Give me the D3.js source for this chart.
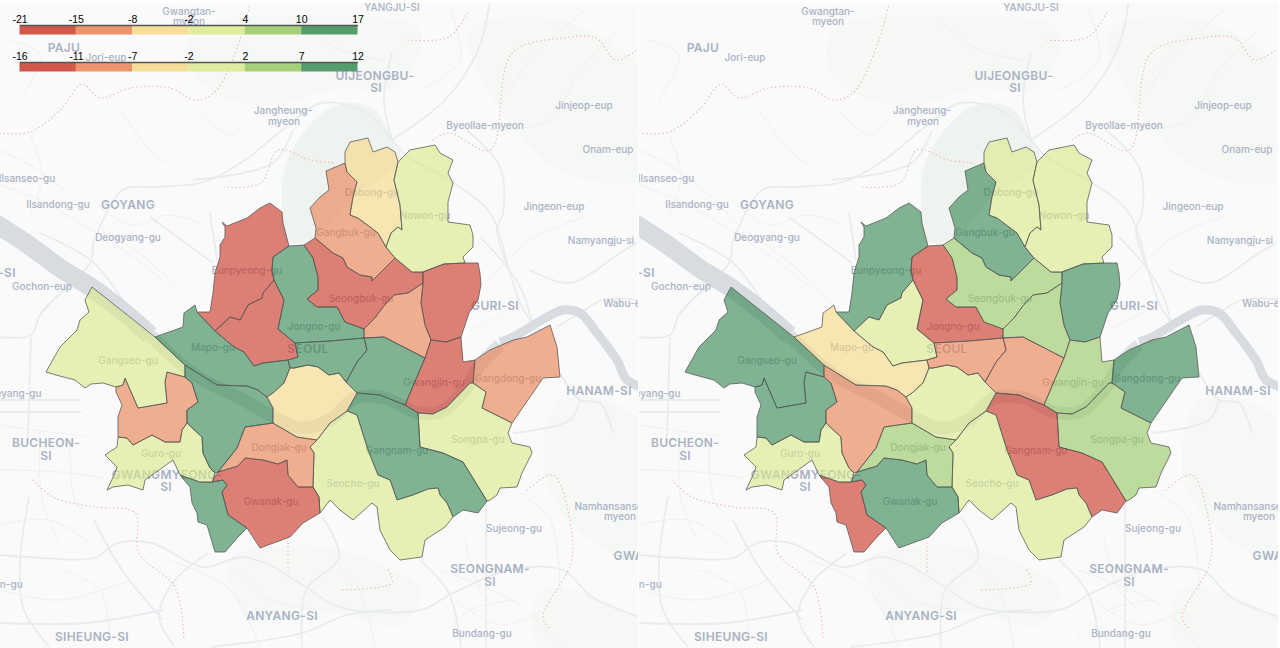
<!DOCTYPE html>
<html>

<head>
  <meta charset="utf-8">
  <title>Seoul districts</title>
  <script src="https://cdn.jsdelivr.net/npm/d3@7/dist/d3.min.js"></script>
  <style>
    html, body { margin: 0; padding: 0; background: #fff; }
    svg { display: block; }
    .place { font-family: Inter, "Open Sans", sans-serif; fill: #a9b2c3; text-anchor: middle; dominant-baseline: central; }
    .town { font-size: 10px; font-weight: 500; }
    .city { font-size: 12px; font-weight: 600; letter-spacing: 0.3px; }
    .legend text { font-family: "Liberation Sans", sans-serif; font-size: 10.5px; fill: #000; }
    .legend .domain { stroke: #555; stroke-width: 1.5px; }
  </style>
</head>

<body>
  <div id="chart"></div>

  <script>
    // Bin edges of the two colour legends
    const leftTicks = [-21, -15, -8, -2, 4, 10, 17];
    const rightTicks = [-16, -11, -7, -2, 2, 7, 12];
    const palette = ["#c82f1e", "#e97b49", "#f5d782", "#d9e987", "#94c65d", "#2f844b"];

    const districtNames = [
      "Eunpyeong-gu", "Seodaemun-gu", "Jongno-gu", "Seongbuk-gu", "Gangbuk-gu",
      "Dobong-gu", "Nowon-gu", "Jungnang-gu", "Dongdaemun-gu", "Seongdong-gu",
      "Gwangjin-gu", "Gangdong-gu", "Songpa-gu", "Gangnam-gu", "Seocho-gu",
      "Gwanak-gu", "Dongjak-gu", "Geumcheon-gu", "Guro-gu", "Yangcheon-gu",
      "Gangseo-gu", "Yeongdeungpo-gu", "Mapo-gu", "Yongsan-gu", "Jung-gu"
    ];
    const leftValues = [-18, -17, 12, -19, -12, -5, 1, -20, -11, 13, -19, -10, 0, 14, 2, -18, -10, 13, 1, -12, -1, 15, 11, -4, 12];
    const rightValues = [9, 0, -14, 4, 10, 0, -1, 11, 3, -9, 4, 9, 5, -15, 1, 10, 4, -13, -1, 8, 8, -9, -4, 1, -10];

    // District outlines, map units, same order as districtNames
    const districtRings = [
      [[270,203],[282,212],[283,223],[289,246],[273,257],[272,270],[274,280],[263,293],[262,298],[248,305],[240,320],[230,317],[215,331],[197,312],[210,312],[213,293],[215,273],[220,257],[220,245],[225,237],[225,227],[222,222],[227,226],[247,218],[260,208]],
      [[274,280],[284,300],[278,329],[295,343],[298,357],[288,360],[263,363],[254,366],[244,352],[234,347],[215,331],[230,317],[240,320],[248,305],[262,298],[263,293]],
      [[273,257],[289,246],[304,245],[313,258],[318,277],[318,290],[307,299],[317,307],[337,307],[345,322],[364,329],[364,338],[330,341],[295,343],[278,329],[284,300],[274,280],[272,270]],
      [[315,238],[333,253],[343,258],[347,267],[360,275],[372,277],[372,281],[395,258],[412,272],[423,272],[423,283],[408,293],[394,295],[383,307],[375,318],[364,329],[345,322],[337,307],[317,307],[307,299],[318,290],[318,277],[313,258],[304,245]],
      [[345,163],[326,171],[329,190],[320,197],[310,208],[316,228],[315,238],[333,253],[343,258],[347,267],[360,275],[372,277],[372,281],[395,258],[386,247],[378,233],[358,218],[350,215],[353,197],[357,182],[347,172]],
      [[345,152],[350,142],[368,138],[373,152],[387,147],[395,152],[398,162],[394,180],[400,205],[402,230],[398,227],[391,233],[386,247],[378,233],[358,218],[350,215],[353,197],[357,182],[347,172],[345,163]],
      [[398,162],[410,150],[435,145],[440,153],[453,160],[448,173],[453,183],[448,202],[448,222],[470,225],[473,235],[473,247],[463,257],[465,263],[444,264],[423,272],[412,272],[395,258],[386,247],[391,233],[398,227],[402,230],[400,205],[394,180]],
      [[423,272],[444,264],[465,263],[478,263],[480,273],[481,285],[478,300],[469,313],[461,337],[446,342],[431,340],[425,325],[421,303],[423,283]],
      [[364,329],[375,318],[383,307],[394,295],[408,293],[423,283],[421,303],[425,325],[431,340],[425,358],[384,337],[364,338]],
      [[364,338],[384,337],[425,358],[405,405],[380,395],[357,393],[346,382],[357,362],[367,350]],
      [[431,340],[446,342],[461,337],[463,362],[475,360],[473,383],[470,383],[447,407],[433,414],[418,413],[405,405],[425,358]],
      [[475,360],[490,350],[513,340],[527,337],[550,325],[557,347],[558,357],[560,377],[543,378],[530,397],[512,423],[482,408],[486,392],[473,383]],
      [[470,383],[473,383],[486,392],[482,408],[512,423],[508,433],[512,443],[530,447],[532,453],[522,473],[517,487],[500,488],[497,495],[490,500],[487,501],[463,462],[443,453],[420,447],[418,413],[433,414],[447,407]],
      [[357,393],[380,395],[405,405],[418,413],[420,447],[443,453],[463,462],[487,501],[478,513],[463,510],[453,517],[447,503],[440,495],[438,488],[428,489],[413,495],[397,500],[390,480],[378,475],[368,450],[357,415],[352,413],[347,411]],
      [[317,440],[330,423],[347,411],[352,413],[357,415],[368,450],[378,475],[390,480],[397,500],[413,495],[428,489],[438,488],[440,495],[447,503],[453,517],[445,527],[425,540],[422,557],[400,560],[390,550],[380,530],[377,507],[372,503],[353,520],[340,510],[330,500],[320,513],[319,497],[313,487],[314,453],[310,447]],
      [[298,487],[313,487],[319,497],[320,513],[303,523],[290,537],[260,548],[247,528],[228,515],[222,492],[227,485],[223,480],[212,482],[218,472],[238,466],[245,458],[263,460],[278,464],[287,460],[288,475]],
      [[245,427],[273,423],[297,437],[317,440],[310,447],[314,453],[313,487],[298,487],[288,475],[287,460],[278,464],[263,460],[245,458],[238,466],[218,472],[237,448]],
      [[180,475],[190,487],[192,503],[197,513],[198,522],[207,525],[215,552],[225,552],[238,537],[247,528],[228,515],[222,492],[227,485],[223,480],[212,482],[200,482]],
      [[187,423],[202,437],[203,453],[210,468],[215,473],[212,482],[200,482],[180,475],[173,460],[155,473],[145,480],[143,490],[128,485],[113,487],[107,490],[115,473],[117,467],[105,455],[117,447],[118,437],[127,438],[133,445],[152,435],[165,442],[180,442],[182,430]],
      [[116,387],[123,385],[125,378],[138,408],[167,403],[165,382],[167,372],[185,377],[192,383],[198,402],[187,410],[187,423],[182,430],[180,442],[165,442],[152,435],[133,445],[127,438],[118,437],[118,417],[122,405],[116,392]],
      [[92,287],[155,337],[185,365],[185,377],[167,372],[165,382],[167,403],[138,408],[125,378],[123,385],[116,387],[103,383],[91,384],[85,388],[75,380],[56,375],[46,372],[60,347],[77,330],[80,320],[89,312],[85,300]],
      [[185,365],[217,385],[247,386],[258,390],[267,397],[273,408],[273,423],[245,427],[237,448],[218,472],[215,473],[210,468],[203,453],[202,437],[187,423],[187,410],[198,402],[192,383],[185,377]],
      [[195,305],[184,313],[183,327],[155,337],[185,365],[217,385],[247,386],[258,390],[267,397],[273,393],[284,383],[290,368],[288,360],[263,363],[254,366],[244,352],[234,347],[215,331],[197,312]],
      [[267,397],[273,393],[284,383],[290,368],[294,368],[308,365],[318,367],[329,375],[339,373],[346,382],[357,393],[347,411],[330,423],[317,440],[297,437],[273,423],[273,408]],
      [[295,343],[330,341],[364,338],[367,350],[357,362],[346,382],[339,373],[329,375],[318,367],[308,365],[294,368],[290,368],[288,360],[298,357]]
    ];

    // Base map
    const mountainArea = [[282,205],[284,170],[295,145],[320,115],[345,103],[375,110],[392,140],[402,160],[350,200],[315,240],[285,240]];
    const greenAreas = [
      [[195,30],[300,15],[420,30],[400,85],[330,90],[280,105],[230,100],[190,70]],
      [[230,560],[300,545],[360,555],[420,590],[400,625],[320,610],[250,620]],
      [[560,400],[640,420],[640,560],[590,540],[545,480]],
      [[470,30],[560,20],[640,70],[640,180],[560,170],[500,110]],
      [[540,590],[640,620],[640,648],[540,648]]
    ];
    const riverWest = [[-10,220],[30,246],[60,268],[95,290],[125,313],[150,335]];
    const riverCity = [[150,335],[195,375],[240,398],[270,415],[300,428],[330,420],[355,398],[385,398],[415,412],[440,412],[465,390],[480,365],[500,345]];
    const riverEast = [[500,342],[513,337],[547,317],[563,310],[580,313],[597,333],[617,360],[627,380],[645,388]];
    const roads = [
      [[93,243],[123,190],[155,187],[204,182],[245,160],[286,127],[322,103],[367,113],[392,140],[408,157],[449,180],[490,213],[510,273],[520,303],[535,327]],
      [[490,0],[478,50],[445,100],[392,140]],
      [[392,53],[384,100],[392,140]],
      [[467,130],[500,167],[503,213],[497,230],[510,273]],
      [[0,555],[41,558],[94,558],[118,543],[151,543],[204,567],[241,557],[265,563],[306,587],[339,607],[420,610],[453,593],[510,570],[563,570],[592,597],[640,617]],
      [[212,647],[302,633],[347,615],[392,610]],
      [[420,560],[449,593],[461,647]],
      [[486,500],[486,647]],
      [[322,517],[339,557],[306,590],[302,647]],
      [[208,553],[175,580],[159,617],[175,647]],
      [[94,520],[122,570],[163,620]],
      [[29,497],[20,563],[24,610],[49,647]],
      [[0,623],[86,623],[163,610]],
      [[93,243],[90,263],[60,293],[40,315]],
      [[40,233],[93,262],[127,307]],
      [[150,217],[213,263]],
      [[193,180],[273,163],[293,130]],
      [[210,213],[217,260]],
      [[480,237],[507,267],[523,293],[533,327]],
      [[530,270],[570,283],[620,253],[637,243]],
      [[557,327],[580,313],[603,300],[640,300]],
      [[560,373],[580,400],[600,403],[613,433]],
      [[513,433],[570,420],[580,400]],
      [[0,337],[31,335],[41,313],[81,277]],
      [[0,400],[81,400]],
      [[0,412],[81,412]],
      [[31,337],[28,437]]
    ];
    // Thinner streets, mostly the built-up parts round the edge of the map
    const streets = [
      [[0,150],[30,165],[70,195],[100,225],[150,262],[195,305]],
      [[0,185],[40,200],[88,228],[130,255],[175,290]],
      [[30,135],[42,175],[30,215]],
      [[98,205],[130,225],[170,215],[205,225]],
      [[0,425],[34,430],[84,436]],
      [[0,470],[60,472],[104,478]],
      [[40,430],[42,500],[58,540]],
      [[70,440],[75,500],[92,520]],
      [[0,525],[50,520],[96,548]],
      [[60,570],[100,590],[110,640]],
      [[0,590],[60,600],[130,580]],
      [[170,560],[230,590],[260,648]],
      [[240,570],[270,600],[325,610]],
      [[335,560],[360,590],[375,648]],
      [[440,570],[520,605],[560,648]],
      [[455,600],[500,625],[540,612]],
      [[430,648],[470,610],[515,600]],
      [[465,540],[480,590],[500,610]],
      [[515,490],[550,520],[560,590]],
      [[510,310],[470,330]],
      [[490,280],[530,240],[590,215]],
      [[490,130],[550,120],[580,70],[620,30]],
      [[510,90],[530,60],[585,10]],
      [[420,90],[460,60],[450,10]],
      [[200,110],[230,135],[250,120]],
      [[20,100],[40,55],[10,40]],
      [[120,110],[150,150],[170,165]],
      [[300,20],[340,50],[385,60]]
    ];
    const borders = [
      [[0,133],[30,132],[62,108],[82,84],[100,98],[130,88],[170,88],[195,100],[215,92],[240,40],[250,4]],
      [[224,187],[261,183],[278,150],[310,160],[335,163]],
      [[433,140],[449,133],[490,150],[512,53],[563,38],[596,38],[616,60],[637,50]],
      [[408,40],[449,37],[469,10]],
      [[33,480],[53,497],[94,507],[135,513],[139,553],[175,587],[184,640]],
      [[288,543],[288,573]],
      [[388,570],[392,583],[339,590]],
      [[527,490],[553,475],[571,527],[571,563],[543,617],[551,630]]
    ];

    const placeLabels = [
      ["YANGJU-SI", 392, 7, "town"], ["Gwangtan-", 189, 11, "town"], ["myeon", 189, 21, "town"],
      ["PAJU", 64, 47, "city"], ["Jori-eup", 106, 57, "town"], ["UIJEONGBU-", 375, 75, "city"], ["SI", 376, 87, "city"],
      ["Jangheung-", 283, 110, "town"], ["myeon", 284, 121, "town"], ["Jinjeop-eup", 584, 105, "town"],
      ["Byeollae-myeon", 485, 125, "town"], ["Onam-eup", 608, 149, "town"], ["Ilsanseo-gu", 27, 178, "town"],
      ["Ilsandong-gu", 58, 204, "town"], ["GOYANG", 128, 204, "city"], ["Jingeon-eup", 554, 206, "town"],
      ["Deogyang-gu", 128, 237, "town"], ["Namyangju-si", 601, 240, "town"], ["-SI", 7, 272, "city"],
      ["Gochon-eup", 42, 286, "town"], ["GURI-SI", 495, 305, "city"], ["Wabu-eup", 628, 303, "town"],
      ["HANAM-SI", 599, 390, "city"], ["Gyeyang-gu", 12, 393, "town"], ["BUCHEON-", 46, 442, "city"], ["SI", 46, 455, "city"],
      ["GWANGMYEONG-", 167, 474, "city"], ["SI", 166, 486, "city"], ["SEOUL", 308, 348, "city"],
      ["Gangseo-gu", 128, 360, "town"], ["Mapo-gu", 213, 347, "town"], ["Jongno-gu", 314, 326, "town"],
      ["Eunpyeong-gu", 247, 270, "town"], ["Seongbuk-gu", 361, 298, "town"], ["Gangbuk-gu", 346, 232, "town"],
      ["Dobong-gu", 372, 192, "town"], ["Nowon-gu", 425, 215, "town"], ["Guro-gu", 161, 453, "town"],
      ["Dongjak-gu", 279, 447, "town"], ["Gwanak-gu", 271, 501, "town"], ["Seocho-gu", 353, 483, "town"],
      ["Gangnam-gu", 397, 450, "town"], ["Gwangjin-gu", 434, 382, "town"], ["Gangdong-gu", 508, 378, "town"],
      ["Songpa-gu", 478, 439, "town"], ["Sujeong-gu", 514, 528, "town"], ["Namhansanseong-", 620, 506, "town"],
      ["myeon", 620, 516, "town"], ["GWANGJU-SI", 655, 555, "city"], ["SEONGNAM-", 490, 568, "city"], ["SI", 490, 581, "city"],
      ["Manan-gu", -2, 584, "town"], ["ANYANG-SI", 282, 615, "city"], ["Bundang-gu", 482, 633, "town"], ["SIHEUNG-SI", 92, 636, "city"]
    ];

    const width = 1280;
    const height = 648;
    const panelTop = 3;
    const panelW = 639;

    const svg = d3.select("#chart").append("svg")
      .attr("width", width)
      .attr("height", height);

    const path = d3.geoPath(d3.geoIdentity());
    const roadLine = d3.line().curve(d3.curveCatmullRom);
    const blob = d3.line().curve(d3.curveCatmullRomClosed);

    function feature(name, value, ring) {
      return {
        type: "Feature",
        properties: { name, value },
        geometry: { type: "Polygon", coordinates: [ring.concat([ring[0]])] }
      };
    }

    function drawPanel(id, x, ticks, values) {
      // Bin edges without the two ends give the colour thresholds
      const color = d3.scaleThreshold().domain(ticks.slice(1, -1)).range(palette);

      svg.append("clipPath").attr("id", id)
        .append("rect")
        .attr("x", 0).attr("y", panelTop)
        .attr("width", id === "left" ? 638 : panelW)
        .attr("height", height - panelTop);

      const outer = svg.append("g")
        .attr("transform", `translate(${x},0)`)
        .attr("clip-path", `url(#${id})`);

      outer.append("rect")
        .attr("y", panelTop)
        .attr("width", panelW)
        .attr("height", height - panelTop)
        .attr("fill", "#fafafa");

      outer.selectAll(".green").data(greenAreas).enter().append("path")
        .attr("d", d => blob(d))
        .attr("fill", "#f6f8f6");

      outer.append("path")
        .attr("d", blob(mountainArea))
        .attr("fill", "#eff3f0");

      outer.selectAll(".street").data(streets).enter().append("path")
        .attr("d", d => roadLine(d))
        .attr("fill", "none")
        .attr("stroke", "#eef0f2")
        .attr("stroke-width", 1);

      outer.selectAll(".road").data(roads).enter().append("path")
        .attr("d", d => roadLine(d))
        .attr("fill", "none")
        .attr("stroke", "#e9ebee")
        .attr("stroke-width", 1.8);

      outer.selectAll(".border").data(borders).enter().append("path")
        .attr("d", d => roadLine(d))
        .attr("fill", "none")
        .attr("stroke", "#e9bcbc")
        .attr("stroke-width", 1.2)
        .attr("stroke-linecap", "round")
        .attr("stroke-dasharray", "0.5 3.5");

      // Han river
      [[riverWest, 19, "#d8dce1"], [riverCity, 13, "#dde0e4"], [riverEast, 9, "#d8dce1"]].forEach(function (r) {
        outer.append("path")
          .attr("d", roadLine(r[0]))
          .attr("fill", "none")
          .attr("stroke", r[2])
          .attr("stroke-width", r[1]);
      });

      outer.selectAll(".place").data(placeLabels).enter().append("text")
        .attr("class", d => "place " + d[3])
        .attr("x", d => d[1])
        .attr("y", d => d[2])
        .text(d => d[0]);

      const features = districtNames.map((n, i) => feature(n, values[i], districtRings[i]));

      outer.selectAll(".district").data(features).enter().append("path")
        .attr("class", "district")
        .attr("d", path)
        .attr("fill", d => color(d.properties.value))
        .attr("fill-opacity", 0.6)
        .attr("stroke", "#555")
        .attr("stroke-opacity", 0.85)
        .attr("stroke-width", 0.9)
        .attr("stroke-linejoin", "round");
    }

    function drawLegend(ticks, top) {
      const legendX = d3.scaleLinear().domain([0, 6]).range([19.5, 357.5]);
      const g = svg.append("g").attr("class", "legend").attr("transform", `translate(0,${top})`);

      g.selectAll("rect").data(palette).enter().append("rect")
        .attr("x", (d, i) => legendX(i))
        .attr("width", (d, i) => legendX(i + 1) - legendX(i))
        .attr("height", 9.5)
        .attr("fill", d => d)
        .attr("fill-opacity", 0.8);

      g.call(d3.axisTop(legendX)
        .tickValues(d3.range(7))
        .tickFormat(i => ticks[i])
        .tickSize(0)
        .tickSizeOuter(0)
        .tickPadding(2));
    }

    drawPanel("left", 0, leftTicks, leftValues);
    drawPanel("right", panelW, rightTicks, rightValues);
    drawLegend(leftTicks, 25);
    drawLegend(rightTicks, 62);
  </script>
</body>

</html>
